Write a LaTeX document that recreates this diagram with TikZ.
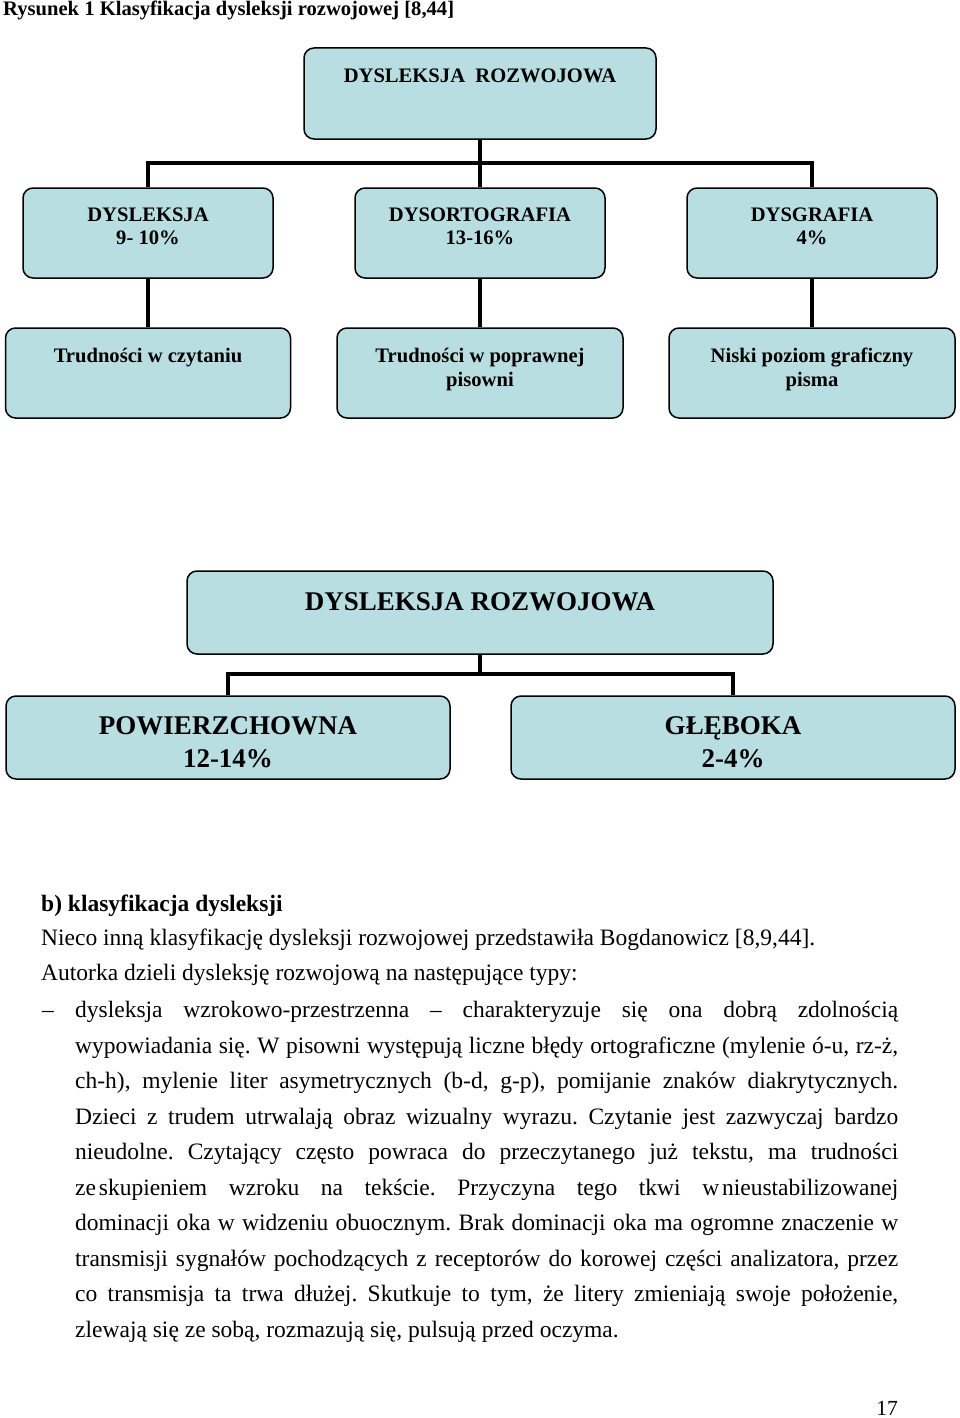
\documentclass[tikz,border=0pt]{standalone}
\usepackage{fontspec}
\setmainfont{Liberation Serif}
\definecolor{boxfill}{RGB}{185,222,226}
\begin{document}
\begin{tikzpicture}[x=1pt,y=-1pt,
  box/.style={draw=black, line width=1.5pt, fill=boxfill, rounded corners=10pt, inner sep=0pt},
  conn/.style={line width=4.5pt, line join=miter},
  lblA/.style={font=\fontsize{20.6}{23}\selectfont\bfseries, inner sep=0pt, anchor=base},
  lblB/.style={font=\fontsize{27}{33}\selectfont\bfseries, inner sep=0pt, anchor=base},
  body/.style={font=\fontsize{23.5}{35.5}\selectfont\frenchspacing, inner sep=0pt, anchor=base west},
  jline/.style={body}
]
\useasboundingbox (0,0) rectangle (960,1418);
\fill[white] (0,0) rectangle (960,1418);

% title
\node[font=\fontsize{20.6}{23}\selectfont\bfseries, inner sep=0pt, anchor=base west] (title) at (3,16) {Rysunek 1 Klasyfikacja dysleksji rozwojowej [8,44]};

% ---------- diagram 1 ----------
\coordinate (b1) at (480,163);
\node[box, minimum width=352pt, minimum height=91pt] (top1) at (480,93.5) {};
\node[box, minimum width=250pt, minimum height=90pt] (r2a) at (148,233) {};
\node[box, minimum width=250pt, minimum height=90pt] (r2b) at (480,233) {};
\node[box, minimum width=250pt, minimum height=90pt] (r2c) at (812,233) {};
\node[box, minimum width=285pt, minimum height=90pt] (r3a) at (148,373) {};
\node[box, minimum width=286pt, minimum height=90pt] (r3b) at (480,373) {};
\node[box, minimum width=286pt, minimum height=90pt] (r3c) at (812,373) {};

\draw[conn] (top1.south) -- (top1.south |- b1);
\draw[conn] (r2a.north) -- (r2a.north |- b1) -- (r2c.north |- b1) -- (r2c.north);
\draw[conn] (r2b.north |- b1) -- (r2b.north);
\draw[conn] (r2a.south) -- (r3a.north);
\draw[conn] (r2b.south) -- (r3b.north);
\draw[conn] (r2c.south) -- (r3c.north);

\node[lblA] (t1) at (480,83) {DYSLEKSJA\ \ ROZWOJOWA};
\node[lblA] (t2a1) at (148,221) {DYSLEKSJA};
\node[lblA] (t2a2) at (148,244) {9- 10\%};
\node[lblA] (t2b1) at (480,221) {DYSORTOGRAFIA};
\node[lblA] (t2b2) at (480,244) {13-16\%};
\node[lblA] (t2c1) at (812,221) {DYSGRAFIA};
\node[lblA] (t2c2) at (812,244) {4\%};
\node[lblA] (t3a1) at (148,362) {Trudności w czytaniu};
\node[lblA] (t3b1) at (480,362) {Trudności w poprawnej};
\node[lblA] (t3b2) at (480,386) {pisowni};
\node[lblA] (t3c1) at (812,362) {Niski poziom graficzny};
\node[lblA] (t3c2) at (812,386) {pisma};

% ---------- diagram 2 ----------
\coordinate (b2) at (480,674);
\node[box, minimum width=586pt, minimum height=83pt] (top2) at (480,612.5) {};
\node[box, minimum width=444pt, minimum height=83pt] (p1) at (228,737.5) {};
\node[box, minimum width=444pt, minimum height=83pt] (p2) at (733,737.5) {};
\draw[conn] (top2.south) -- (top2.south |- b2);
\draw[conn] (p1.north) -- (p1.north |- b2) -- (p2.north |- b2) -- (p2.north);

\node[lblB] (u1) at (480,610) {DYSLEKSJA ROZWOJOWA};
\node[lblB] (u2a) at (228,734) {POWIERZCHOWNA};
\node[lblB] (u2b) at (228,767) {12-14\%};
\node[lblB] (u3a) at (733,734) {GŁĘBOKA};
\node[lblB] (u3b) at (733,767) {2-4\%};

% ---------- text ----------
\node[body, font=\fontsize{23.5}{35.5}\selectfont\bfseries] (h) at (41,911) {b) klasyfikacja dysleksji};
\node[body] (l2) at (41,945) {Nieco inną klasyfikację dysleksji rozwojowej przedstawiła Bogdanowicz [8,9,44].};
\node[body] (l3) at (41,980) {Autorka dzieli dysleksję rozwojową na następujące typy:};
\node[body] (dash) at (42,1017) {–};
\node[jline] (l4) at (75,1017) {\makebox[823pt][s]{dysleksja wzrokowo-przestrzenna – charakteryzuje się ona dobrą zdolnością}};
\node[jline] (l5) at (75,1053) {\makebox[823pt][s]{wypowiadania się. W pisowni występują liczne błędy ortograficzne (mylenie ó-u, rz-ż,}};
\node[jline] (l6) at (75,1088) {\makebox[823pt][s]{ch-h), mylenie liter asymetrycznych (b-d, g-p), pomijanie znaków diakrytycznych.}};
\node[jline] (l7) at (75,1124) {\makebox[823pt][s]{Dzieci z trudem utrwalają obraz wizualny wyrazu. Czytanie jest zazwyczaj bardzo}};
\node[jline] (l8) at (75,1159) {\makebox[823pt][s]{nieudolne. Czytający często powraca do przeczytanego już tekstu, ma trudności}};
\node[jline] (l9) at (75,1195) {\makebox[823pt][s]{ze\hspace{0.12em}skupieniem wzroku na tekście. Przyczyna tego tkwi w\hspace{0.12em}nieustabilizowanej}};
\node[jline] (l10) at (75,1230) {\makebox[823pt][s]{dominacji oka w widzeniu obuocznym. Brak dominacji oka ma ogromne znaczenie w}};
\node[jline] (l11) at (75,1266) {\makebox[823pt][s]{transmisji sygnałów pochodzących z receptorów do korowej części analizatora, przez}};
\node[jline] (l12) at (75,1301) {\makebox[823pt][s]{co transmisja ta trwa dłużej. Skutkuje to tym, że litery zmieniają swoje położenie,}};
\node[body] (l13) at (75,1337) {zlewają się ze sobą, rozmazują się, pulsują przed oczyma.};

\node[body, anchor=base east, font=\fontsize{21.5}{26}\selectfont] (pg) at (898,1415) {17};
\end{tikzpicture}
\end{document}
